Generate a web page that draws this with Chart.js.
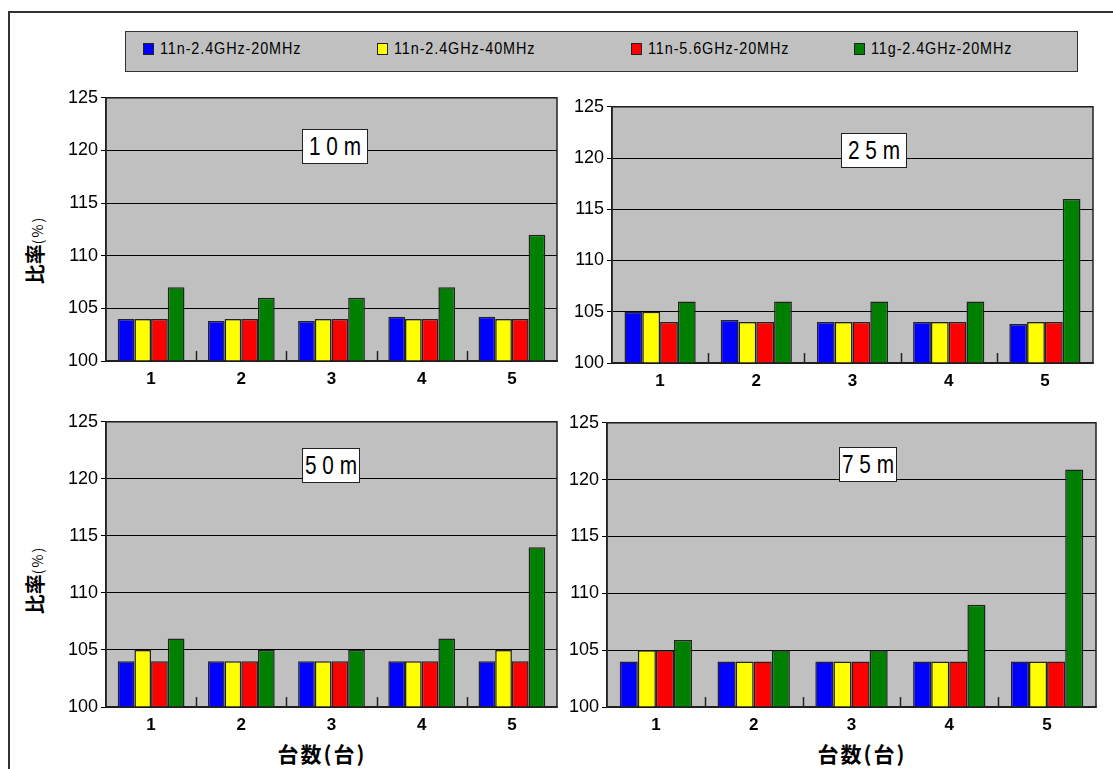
<!DOCTYPE html>
<html>
<head>
<meta charset="utf-8">
<script src="https://cdn.jsdelivr.net/npm/chart.js@4/dist/chart.umd.min.js"></script>
<style>
  body { margin: 0; width: 1113px; height: 769px; background: #fff; overflow: hidden; position: relative; font-family: "Liberation Sans", Arial, sans-serif; }
  .frame { position: absolute; left: 8px; top: 11px; width: 1110px; height: 770px; border-left: 2px solid #333; border-top: 2px solid #333; }
  .legend { position: absolute; left: 125px; top: 31px; width: 953px; height: 41px; box-sizing: border-box; background: #c0c0c0; border: 1.5px solid #333; }
  .lg-item { position: absolute; top: 10px; font-family: "Liberation Sans", Arial, sans-serif; font-size: 16px; line-height: 18px; color: #000; white-space: nowrap; }
  .lg-box { position: absolute; left: 0; top: 1px; width: 9px; height: 10px; border: 1px solid #222; }
  .lg-text { position: absolute; left: 17px; top: -2px; letter-spacing: 1px; transform: scaleX(0.9); transform-origin: 0 50%; }
  .box { position: absolute; }
  .ptitle { position: absolute; background: #fff; border: 1px solid #222; box-sizing: border-box; height: 35px; overflow: hidden; white-space: nowrap; color: #000; }
  .ptitle span { position: absolute; left: 50%; top: 0; font-family: "Liberation Sans", Arial, sans-serif; font-size: 26px; line-height: 33px; transform: translateX(-50%) scaleX(0.8); white-space: nowrap; }
  .ytitle { position: absolute; transform: translate(-50%, -50%) rotate(-90deg); font-family: "Noto Sans CJK JP", sans-serif; font-size: 20px; font-weight: bold; white-space: nowrap; color: #000; }
  .ytitle small { font-size: 14px; font-weight: normal; letter-spacing: 2px; }
  .xtitle { position: absolute; transform: translate(-50%, -50%); font-family: "Noto Sans CJK JP", sans-serif; font-size: 21px; font-weight: bold; letter-spacing: 2px; white-space: nowrap; color: #000; }
</style>
</head>
<body>
<div class="frame"></div>
<div class="legend"></div>
<div class="box" id="b0"><canvas id="c0"></canvas></div>
<div class="box" id="b1"><canvas id="c1"></canvas></div>
<div class="box" id="b2"><canvas id="c2"></canvas></div>
<div class="box" id="b3"><canvas id="c3"></canvas></div>
<div class="ytitle" style="left:34px; top:250px;">比率<small>(%)</small></div>
<div class="ytitle" style="left:34px; top:580px;">比率<small>(%)</small></div>
<div class="xtitle" style="left:322px; top:753px;">台数(台)</div>
<div class="xtitle" style="left:862px; top:753px;">台数(台)</div>
<script>
// data
const categories = ['1', '2', '3', '4', '5'];
const seriesNames = ['11n-2.4GHz-20MHz', '11n-2.4GHz-40MHz', '11n-5.6GHz-20MHz', '11g-2.4GHz-20MHz'];
const seriesColors = ['#0000ff', '#ffff00', '#ff0000', '#008000'];
const panelTitles = ['1 0 m', '2 5 m', '5 0 m', '7 5 m'];
const yTicks = [100, 105, 110, 115, 120, 125];

// each panel: one row per series, one value per category
const dist10m = [
    [104, 103.8, 103.8, 104.2, 104.2],
    [104, 104, 104, 104, 104],
    [104, 104, 104, 104, 104],
    [107, 106, 106, 107, 112]
];
const dist25m = [
    [105, 104.2, 104, 104, 103.8],
    [105, 104, 104, 104, 104],
    [104, 104, 104, 104, 104],
    [106, 106, 106, 106, 116]
];
const dist50m = [
    [104, 104, 104, 104, 104],
    [105, 104, 104, 104, 105],
    [104, 104, 104, 104, 104],
    [106, 105, 105, 106, 114]
];
const dist75m = [
    [104, 104, 104, 104, 104],
    [105, 104, 104, 104, 104],
    [105, 104, 104, 104, 104],
    [105.9, 105, 105, 109, 120.9]
];
const panelData = [dist10m, dist25m, dist50m, dist75m];

// plot area of each panel on the page: left, right, top, bottom
const plotRects = [
    [106, 557, 96, 361],
    [612, 1093, 105, 363],
    [106, 557, 420, 707],
    [607, 1096, 421, 707]
];
const canvasLeft = [50, 560, 50, 560];
const titleBoxes = [[302, 129, 66], [841, 133, 66], [302, 448, 58], [839, 447, 58]];

// legend
const legend = document.querySelector('.legend');
const legendX = [143, 377, 631, 854];
seriesNames.forEach(function (name, i) {
    const item = document.createElement('div');
    item.className = 'lg-item';
    item.style.left = (legendX[i] - 126) + 'px';
    item.innerHTML = '<div class="lg-box" style="background:' + seriesColors[i] + '"></div><div class="lg-text">' + name + '</div>';
    legend.appendChild(item);
});

const plotFrame = {
    id: 'plotFrame',
    beforeDraw(chart) {
        const a = chart.chartArea;
        const c = chart.ctx;
        c.save();
        c.fillStyle = '#c0c0c0';
        c.fillRect(a.left, a.top, a.right - a.left, a.bottom - a.top);
        c.restore();
    },
    afterDraw(chart) {
        const a = chart.chartArea;
        const c = chart.ctx;
        const xs = chart.scales.x;
        c.save();
        c.strokeStyle = '#222';
        c.lineWidth = 1.5;
        c.strokeRect(a.left, a.top, a.right - a.left, a.bottom - a.top);
        for (let i = 1; i < categories.length; i++) {
            const x = Math.round((xs.getPixelForValue(i - 1) + xs.getPixelForValue(i)) / 2) + 0.5;
            c.beginPath();
            c.moveTo(x, a.bottom);
            c.lineTo(x, a.bottom - 10);
            c.stroke();
        }
        c.restore();
    }
};

panelData.forEach(function (rows, p) {
    const r = plotRects[p];
    const left = canvasLeft[p];
    const top = r[2] - 12;
    const width = r[1] + 8 - left;
    const height = r[3] + 26 - top;
    const box = document.getElementById('b' + p);
    box.style.left = left + 'px';
    box.style.top = top + 'px';
    box.style.width = width + 'px';
    box.style.height = height + 'px';

    const t = document.createElement('div');
    t.className = 'ptitle';
    t.style.left = titleBoxes[p][0] + 'px';
    t.style.top = titleBoxes[p][1] + 'px';
    t.style.width = titleBoxes[p][2] + 'px';
    const s = document.createElement('span');
    s.textContent = panelTitles[p];
    t.appendChild(s);
    document.body.appendChild(t);

    new Chart(document.getElementById('c' + p), {
        type: 'bar',
        data: {
            labels: categories,
            datasets: rows.map(function (vals, i) {
                return {
                    label: seriesNames[i],
                    data: vals,
                    backgroundColor: seriesColors[i],
                    borderColor: '#222',
                    borderWidth: 1.5,
                    barPercentage: 1.0,
                    categoryPercentage: 0.74
                };
            })
        },
        options: {
            responsive: true,
            maintainAspectRatio: false,
            animation: false,
            layout: { padding: { top: 12, right: 8, left: 0, bottom: 0 } },
            plugins: { legend: { display: false }, tooltip: { enabled: false } },
            scales: {
                x: {
                    grid: { display: false },
                    border: { display: true, color: '#222', width: 1.5 },
                    ticks: { color: '#000', font: { family: 'Liberation Sans', size: 17, weight: 'bold' }, padding: 0, maxRotation: 0 },
                    afterFit(scale) { scale.height = 26; }
                },
                y: {
                    min: 100,
                    max: 125,
                    afterBuildTicks(scale) { scale.ticks = yTicks.map(function (v) { return { value: v }; }); },
                    grid: { color: '#000', lineWidth: 1, tickLength: 5, drawTicks: true },
                    border: { display: true, color: '#222', width: 1.5 },
                    ticks: { color: '#000', font: { family: 'Liberation Sans', size: 18 }, padding: 3 },
                    afterFit(scale) { scale.width = r[0] - left; }
                }
            }
        },
        plugins: [plotFrame]
    });
});
</script>
</body>
</html>
